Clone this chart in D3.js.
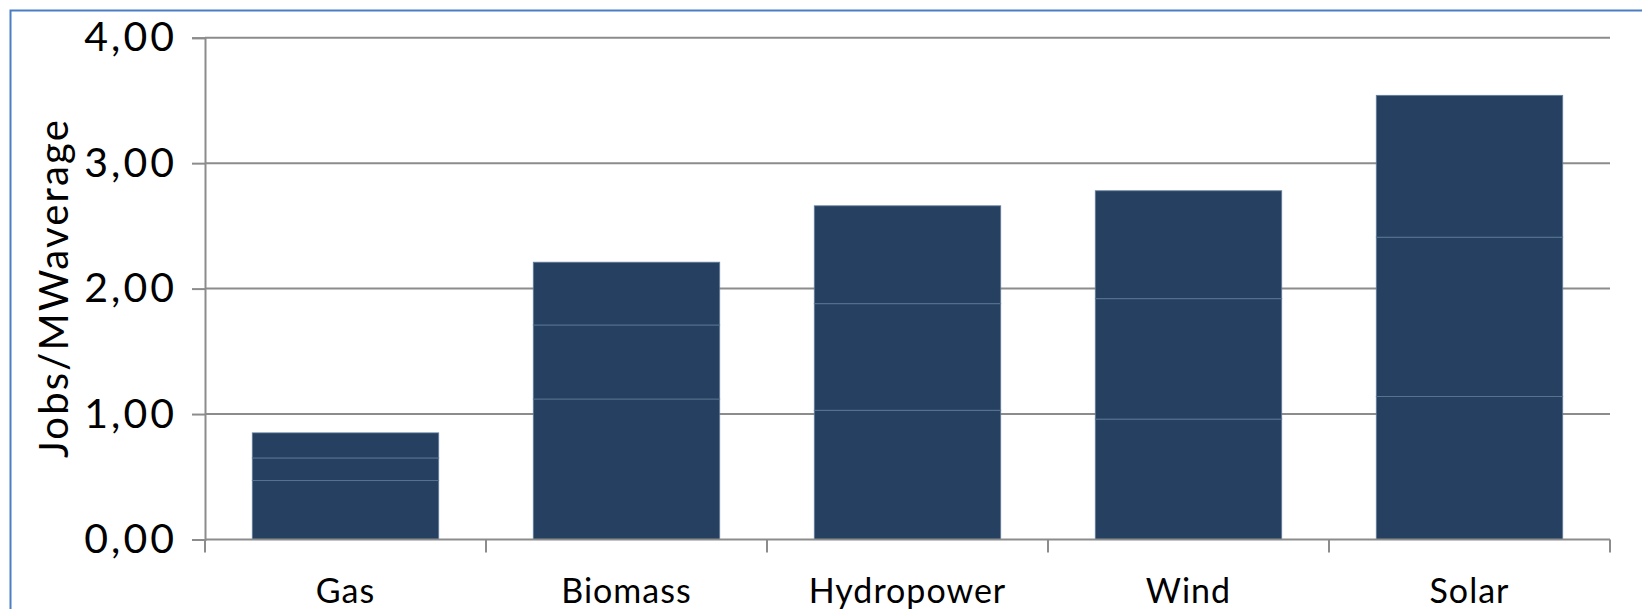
<!DOCTYPE html>
<html>
<head>
<meta charset="utf-8">
<script src="https://cdn.jsdelivr.net/npm/d3@7"></script>
<style>
  html, body { margin: 0; padding: 0; background: #ffffff; }
  svg { display: block; }
  text { font-family: Lato, "Open Sans", sans-serif; fill: #000; }
</style>
</head>
<body>
<svg id="chart" width="1642" height="609"></svg>
<script>
// Jobs per average MW by generation source, three stacked components per source
const categories = ["Gas", "Biomass", "Hydropower", "Wind", "Solar"];
const seriesA = [0.47, 1.12, 1.03, 0.96, 1.14];
const seriesB = [0.18, 0.59, 0.85, 0.96, 1.27];
const seriesC = [0.20, 0.50, 0.78, 0.86, 1.13];
const yTicks = [0, 1, 2, 3, 4];
const yTitle = "Jobs/MWaverage";

const rows = categories.map((c, i) => ({ cat: c, a: seriesA[i], b: seriesB[i], c: seriesC[i] }));
const stacked = d3.stack().keys(["a", "b", "c"])(rows);

const svg = d3.select("#chart");
const W = 1642, H = 609;
const plot = { left: 205, right: 1610, top: 37.7, bottom: 539.5 };

// outer chart frame
svg.append("rect")
  .attr("x", 10.5).attr("y", 10.5)
  .attr("width", W + 20).attr("height", H + 20)
  .attr("fill", "none").attr("stroke", "#4a7fc4").attr("stroke-width", 2);

const x = d3.scaleBand().domain(categories)
  .range([plot.left, plot.right]).paddingInner(0.337).paddingOuter(0.337 / 2);
const y = d3.scaleLinear().domain([0, 4]).range([plot.bottom, plot.top]);

const fmt = v => d3.format(".2f")(v).replace(".", ",");

// horizontal gridlines
svg.append("g").selectAll("line").data(yTicks.slice(1)).join("line")
  .attr("x1", plot.left).attr("x2", plot.right)
  .attr("y1", d => y(d)).attr("y2", d => y(d))
  .attr("stroke", "#8c8c8c").attr("stroke-width", 2);

// y axis
const yAxis = svg.append("g").attr("transform", `translate(${plot.left},0)`)
  .call(d3.axisLeft(y).tickValues(yTicks).tickFormat(fmt).tickSize(13).tickPadding(15));
yAxis.select(".domain").attr("stroke", "#8c8c8c").attr("stroke-width", 2);
yAxis.selectAll(".tick line").attr("stroke", "#8c8c8c").attr("stroke-width", 2);
yAxis.selectAll(".tick text").attr("font-size", 41).attr("fill", "#000")
  .attr("letter-spacing", 3)
  .style("font-family", "Lato, sans-serif");

// bars
const barG = svg.append("g");
stacked.forEach(layer => {
  barG.append("g").selectAll("rect").data(layer).join("rect")
    .attr("x", d => x(d.data.cat))
    .attr("y", d => y(d[1]))
    .attr("width", x.bandwidth())
    .attr("height", d => y(d[0]) - y(d[1]))
    .attr("fill", "#264061")
    .attr("stroke", "#5d7896")
    .attr("stroke-width", 1)
    .attr("stroke-opacity", 0.8);
});

// x axis baseline with category boundary ticks
const bounds = categories.map(c => x(c) - x.step() * x.paddingInner() / 2)
  .concat([plot.right]);
svg.append("line")
  .attr("x1", plot.left).attr("x2", plot.right)
  .attr("y1", y(0)).attr("y2", y(0))
  .attr("stroke", "#8c8c8c").attr("stroke-width", 2);
svg.append("g").selectAll("line").data(bounds).join("line")
  .attr("x1", d => d).attr("x2", d => d)
  .attr("y1", y(0)).attr("y2", y(0) + 13)
  .attr("stroke", "#8c8c8c").attr("stroke-width", 2);

// category labels
svg.append("g").selectAll("text").data(categories).join("text")
  .attr("x", d => x(d) + x.bandwidth() / 2)
  .attr("y", 603)
  .attr("text-anchor", "middle")
  .attr("font-size", 34)
  .attr("letter-spacing", 1)
  .text(d => d);

// y axis title
svg.append("text")
  .attr("transform", `translate(68,288) rotate(-90)`)
  .attr("text-anchor", "middle")
  .attr("font-size", 40)
  .attr("letter-spacing", 2.2)
  .text(yTitle);
</script>
</body>
</html>
